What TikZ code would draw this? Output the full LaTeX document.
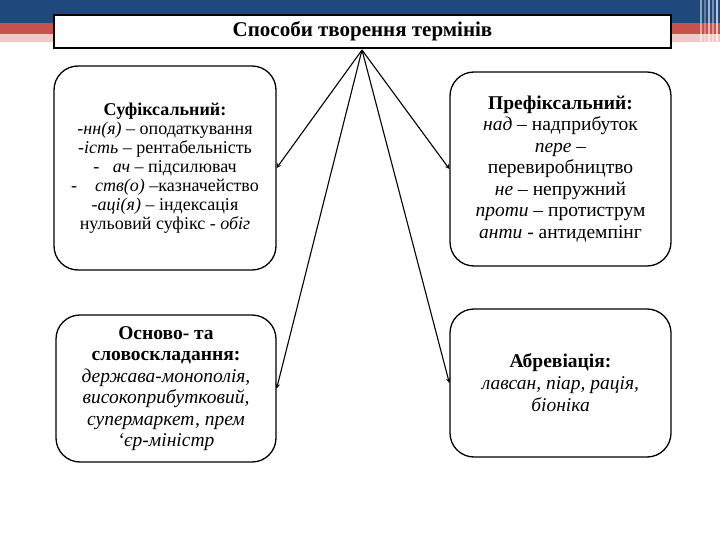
\documentclass[tikz,border=0pt]{standalone}
\usepackage{fontspec}
\setmainfont{Liberation Serif}
\usepackage{xcolor}
\usepackage{tikz}
\usetikzlibrary{shapes.geometric, arrows}
\definecolor{bandblue}{RGB}{31,73,125}
\definecolor{bandred}{RGB}{200,80,77}
\definecolor{bandpink}{RGB}{240,200,200}
\tikzstyle{headbox} = [draw, line width=1.6pt, fill=white, minimum width=617pt, minimum height=33pt, font=\fontsize{21}{24}\selectfont\bfseries]
\tikzstyle{wayblock} = [draw, line width=1.3pt, rounded corners=24pt, align=center, inner sep=0pt]
\tikzstyle{link} = [->,>=stealth,line width=1.1pt]

\begin{document}
\begin{tikzpicture}[x=1pt,y=-1pt]
	\useasboundingbox (0,0) rectangle (720,540);
	
	%Background
	\fill [bandblue] (0,0) rectangle (720,23);
	\fill [bandred] (0,23) rectangle (720,34);
	\fill [bandpink] (0,34) rectangle (720,42);
	\foreach \xs/\op in {700/0.5,704/0.3,708/0.6,712/0.4,716/0.7} {
		\fill [white, opacity=\op] (\xs,0) rectangle (\xs+2,46);
	}
	
	% Title
	\node [headbox] (title) at (362.5,31.5) {Способи творення термінів};
	\coordinate (src) at (362,50);
	
	% Blocks
	\node [wayblock, minimum width=222pt, minimum height=204pt, font=\fontsize{18}{19}\selectfont] (suffix) at (165,168) {%
		\textbf{Суфіксальний:}\\
		-\textit{нн(я)} – оподаткування\\
		-\textit{ість} – рентабельність\\
		-\ \ \ \textit{ач} – підсилювач\\
		-\ \ \ \ \textit{ств(о)} –казначейство\\
		-\textit{аці(я)} – індексація\\
		нульовий суфікс - \textit{обіг}};
	
	\node [wayblock, minimum width=221pt, minimum height=194pt, font=\fontsize{19.5}{21.5}\selectfont] (prefix) at (560.5,169) {%
		\textbf{Префіксальний:}\\
		\textit{над} – надприбуток\\
		\textit{пере} –\\
		перевиробництво\\
		\textit{не} – непружний\\
		\textit{проти} – протиструм\\
		\textit{анти} - антидемпінг};
	
	\node [wayblock, minimum width=220pt, minimum height=147pt, font=\fontsize{19.5}{21.5}\selectfont] (stem) at (166,388.5) {%
		\textbf{Осново- та}\\
		\textbf{словоскладання:}\\
		\textit{держава-монополія,}\\
		\textit{високоприбутковий,}\\
		\textit{супермаркет, прем}\\
		\textit{‘єр-міністр}};
	
	\node [wayblock, minimum width=221pt, minimum height=148pt, font=\fontsize{19.5}{22}\selectfont] (abbrev) at (560.5,383) {%
		\textbf{Абревіація:}\\
		\textit{лавсан, піар, рація,}\\
		\textit{біоніка}};
	
	% Connectors
	\draw [link] (src) -- (suffix.east);
	\draw [link] (src) -- (prefix.west);
	\draw [link] (src) -- (stem.east);
	\draw [link] (src) -- (abbrev.west);
	
\end{tikzpicture}
\end{document}
